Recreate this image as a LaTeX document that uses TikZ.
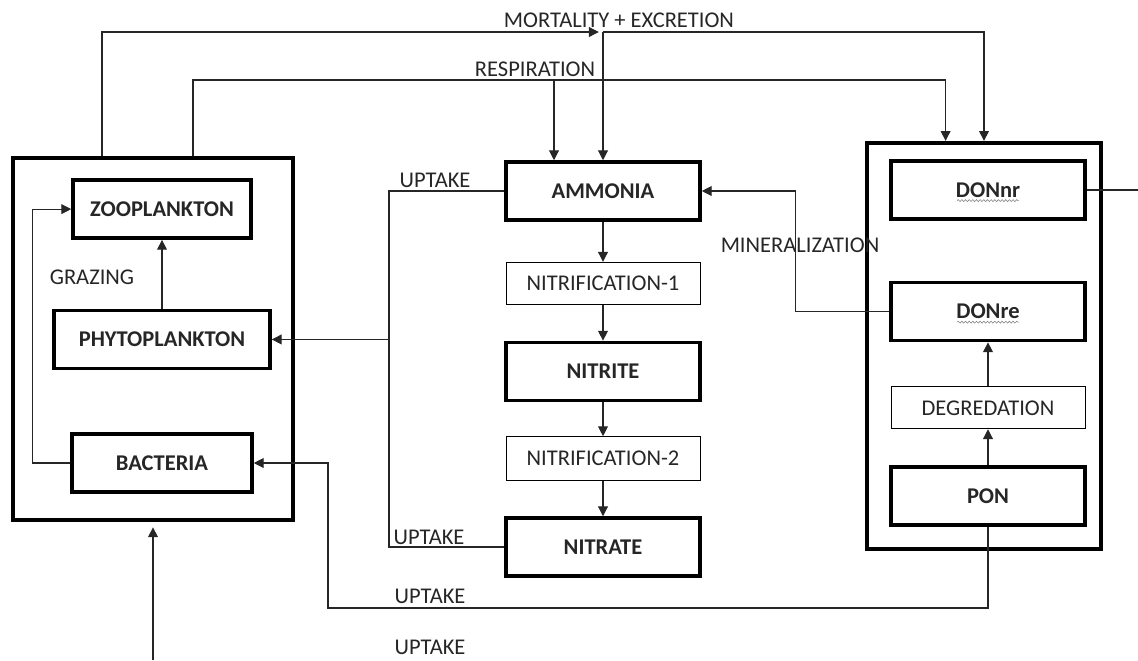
\documentclass[tikz,border=0pt]{standalone}
\usepackage{fontspec}
\setmainfont{Carlito}
\usetikzlibrary{positioning,arrows.meta,decorations.pathmorphing}

\begin{document}
\begin{tikzpicture}[
        x=0.025cm, y=-0.025cm,
        every node/.style={font=\fontsize{16}{19}\selectfont, text=black!85},
        pool/.style={draw, line width=2.5pt, minimum width=4.85cm, minimum height=1.45cm, font=\fontsize{16}{19}\selectfont\bfseries},
        process/.style={draw, line width=0.6pt, minimum width=4.85cm, minimum height=1.1cm},
        group/.style={draw, line width=3pt},
        lbl/.style={inner sep=1pt},
        line/.style={line width=0.8pt, black!85},
        arrow/.style={line, -{Triangle[length=7pt, width=7pt]}},
        squig/.style={gray, line width=0.4pt, decorate, decoration={snake, amplitude=0.7pt, segment length=2.6pt}}
    ]
        \useasboundingbox (0,0) rectangle (1138,660);

        % Plankton group (left)
        \node[group, minimum width=7.0cm, minimum height=9.05cm] (lbox) at (153,339) {};
        \node[pool, minimum width=4.5cm] (bact) at (162,463) {BACTERIA};
        \node[pool, minimum width=5.4cm, above=1.55cm of bact] (phyto) {PHYTOPLANKTON};
        \node[pool, minimum width=4.45cm, above=1.72cm of phyto] (zoo) {ZOOPLANKTON};
        \node[lbl] (grazing) at (92,277) {GRAZING};

        % Inorganic nitrogen (middle)
        \node[pool] (ammonia) at (603,191) {AMMONIA};
        \node[process, minimum height=1.05cm, below=1.0cm of ammonia] (nit1) {NITRIFICATION-1};
        \node[pool, below=0.9cm of nit1] (nitrite) {NITRITE};
        \node[process, below=0.85cm of nitrite] (nit2) {NITRIFICATION-2};
        \node[pool, below=0.88cm of nit2] (nitrate) {NITRATE};

        % Organic nitrogen group (right)
        \node[group, minimum width=5.85cm, minimum height=10.15cm] (rbox) at (984,346) {};
        \node[pool] (pon) at (988,496) {PON};
        \node[process, minimum height=1.05cm, above=0.9cm of pon] (degr) {DEGREDATION};
        \node[pool, above=1.1cm of degr] (donre) {DONre};
        \node[pool, above=1.5cm of donre] (donnr) {DONnr};

        % spell-check marks under the DON names
        \draw[squig] ([xshift=-22pt, yshift=-7.5pt]donnr.center) -- ++(44pt,0);
        \draw[squig] ([xshift=-22pt, yshift=-7.5pt]donre.center) -- ++(44pt,0);

        % Labels on the flows
        \node[lbl] (mortlbl) at (619,20) {MORTALITY + EXCRETION};
        \node[lbl] (resplbl) at (535,69) {RESPIRATION};
        \node[lbl] (uptk1) at (435,180) {UPTAKE};
        \node[lbl] (uptk2) at (429,537) {UPTAKE};
        \node[lbl] (uptk3) at (430,596) {UPTAKE};
        \node[lbl] (uptk4) at (430,647) {UPTAKE};
        \node[lbl] (minlbl) at (800,245) {MINERALIZATION};

        \coordinate (mort) at (603,32);
        \coordinate (resp) at (554,80);
        \coordinate (uptk) at (389,341);
        \coordinate (bactin) at (328,608);
        \coordinate (donout) at (1138,193);
        \coordinate (feed) at (153,660);

        % Inside the plankton group
        \draw[arrow] (phyto.north) -- (zoo.south);
        \draw[arrow] (bact.west) -- ++(-38,0) |- (zoo.west);

        % Mortality + excretion
        \draw[arrow] ([xshift=-1.275cm]lbox.north) |- ([xshift=-3pt]mort);
        \draw[arrow] (mort) -- (ammonia.north);
        \draw[arrow] (mort) -| (rbox.north);

        % Respiration
        \draw[arrow] ([xshift=1cm]lbox.north) |- (resp) -| ([xshift=-0.96cm]rbox.north);
        \draw[arrow] (resp) -- (resp |- ammonia.north);

        % Nitrification chain
        \draw[arrow] (ammonia) -- (nit1);
        \draw[arrow] (nit1) -- (nitrite);
        \draw[arrow] (nitrite) -- (nit2);
        \draw[arrow] (nit2) -- (nitrate);

        % Uptake by phytoplankton
        \draw[line] (ammonia.west) -| (uptk |- nitrate.west) -- (nitrate.west);
        \draw[arrow] (uptk |- phyto.east) -- (phyto.east);

        % Degradation and mineralization
        \draw[arrow] (pon) -- (degr);
        \draw[arrow] (degr) -- (donre);
        \draw[arrow] (donre.west) -- ++(-94,0) |- (ammonia.east);
        \draw[line] (donnr.east) -- (donnr.east -| donout);

        % Uptake by bacteria
        \draw[arrow] (pon.south) |- (bactin) |- (bact.east);
        \draw[arrow] (feed) -- ([yshift=-0.13cm]lbox.south);
    \end{tikzpicture}
\end{document}
